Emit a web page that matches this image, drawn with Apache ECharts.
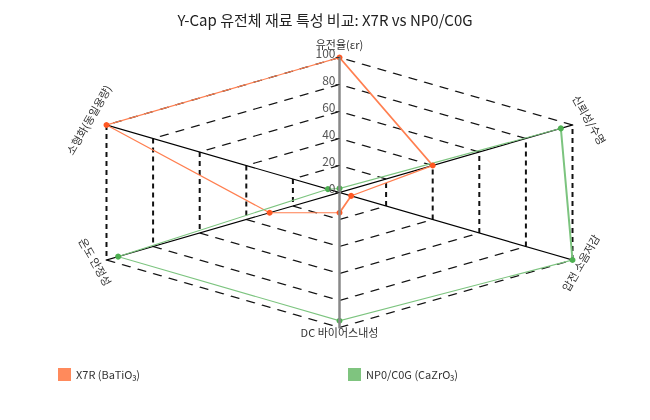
<!DOCTYPE html>
<html>
<head>
<meta charset="utf-8">
<title>Y-Cap 유전체 재료 특성 비교</title>
<script src="https://cdn.jsdelivr.net/npm/echarts@6/dist/echarts.min.js"></script>
<style>
	html, body { margin: 0; padding: 0; background: #fff; }
	#wrap { position: relative; width: 650px; height: 420px; overflow: hidden; }
	#shape { position: absolute; left: 0; top: 0; height: 420px; transform-origin: 0 0; }
	#chart { position: absolute; left: 0; top: 0; width: 650px; height: 420px; }
</style>
</head>
<body>
<div id="wrap">
	<div id="shape"></div>
	<div id="chart"></div>
</div>
<script>
// data
var indicatorNames = ['유전율(εr)', '소형화(동일용량)', '온도 안정성', 'DC 바이어스내성', '압전 소음저감', '신뢰성/수명'];
var seriesNames = ['X7R (BaTiO₃)', 'NP0/C0G (CaZrO₃)'];
var x7rValues = [100, 100, 30, 15, 5, 40];
var np0Values = [3, 5, 95, 95, 100, 95];
var axisMin = 0;
var axisMax = 100;

(function() {
	'use strict';

	var FONT = "'Noto Sans CJK KR', 'Noto Sans', sans-serif";
	// the radar in the reference is stretched sideways, so the shapes layer is scaled on x
	var K = 1.993;
	var CX = 339.5, CY = 192.5, R = 135;

	/*
	Shapes layer (stretched)
	*/
	var shapeEl = document.getElementById('shape');
	shapeEl.style.width = (650 / K) + 'px';
	shapeEl.style.transform = 'scaleX(' + K + ')';

	var shapeIndicators = indicatorNames.map(function(n, i) {
		var ind = { name: n, min: axisMin, max: axisMax };
		if (i === 0 || i === 3) {
			ind.axisLine = { show: false };
		}
		return ind;
	});

	var shapeChart = echarts.init(shapeEl, null, { renderer: 'svg' });
	shapeChart.setOption({
		animation: false,
		radar: {
			center: [CX / K, CY],
			radius: R,
			startAngle: 90,
			shape: 'polygon',
			splitNumber: 5,
			indicator: shapeIndicators,
			axisName: { show: false },
			axisLine: { lineStyle: { color: '#000', width: 1 } },
			axisTick: { show: false },
			axisLabel: { show: false },
			splitLine: { lineStyle: { color: '#111', type: [5, 4], width: 1 } },
			splitArea: { show: false }
		},
		series: [
			{
				type: 'radar',
				name: seriesNames[0],
				symbol: 'circle',
				symbolSize: [6 / K, 6],
				lineStyle: { color: '#FF7F50', width: 1 },
				itemStyle: { color: '#FF5722' },
				data: [{ value: x7rValues, name: seriesNames[0] }]
			},
			{
				type: 'radar',
				name: seriesNames[1],
				symbol: 'circle',
				symbolSize: [6 / K, 6],
				lineStyle: { color: '#7CC47F', width: 1 },
				itemStyle: { color: '#4CAF50' },
				data: [{ value: np0Values, name: seriesNames[1] }]
			}
		]
	});

	/*
	Text layer (title, legend, ticks, names)
	*/
	var textIndicators = indicatorNames.map(function(n, i) {
		var ind = { name: n, min: axisMin, max: axisMax };
		if (i === 0) {
			ind.axisLine = { show: true, lineStyle: { color: '#888', width: 2.5 } };
			ind.axisTick = { show: true, length: 4, lineStyle: { color: '#333', width: 1 } };
			ind.axisLabel = {
				show: true, fontSize: 12, color: '#555', fontFamily: FONT, margin: 4,
				verticalAlign: 'bottom', lineHeight: 8
			};
		}
		if (i === 3) {
			ind.axisLine = { show: true, lineStyle: { color: '#888', width: 2.5 } };
		}
		return ind;
	});

	var nameStyle = { fontSize: 11, fill: '#333', fontFamily: FONT, align: 'center', verticalAlign: 'middle' };
	function nameText(i, x, y, rot) {
		return {
			type: 'text', x: x, y: y, rotation: rot, silent: true,
			style: echarts.util.extend({ text: indicatorNames[i] }, nameStyle)
		};
	}

	var chart = echarts.init(document.getElementById('chart'));
	chart.setOption({
		animation: false,
		textStyle: { fontFamily: FONT },
		title: {
			text: 'Y-Cap 유전체 재료 특성 비교: X7R vs NP0/C0G',
			left: 'center',
			top: 8,
			textStyle: { fontSize: 15, fontWeight: 'normal', color: '#222', fontFamily: FONT }
		},
		legend: [
			{
				data: [{ name: seriesNames[0], itemStyle: { color: '#FF8A5C' } }],
				left: 53, top: 363, icon: 'rect', itemWidth: 13, itemHeight: 13,
				textStyle: { fontSize: 11, color: '#333' }
			},
			{
				data: [{ name: seriesNames[1], itemStyle: { color: '#7FC47F' } }],
				left: 343, top: 363, icon: 'rect', itemWidth: 13, itemHeight: 13,
				textStyle: { fontSize: 11, color: '#333' }
			}
		],
		radar: {
			center: [CX, CY],
			radius: R,
			startAngle: 90,
			shape: 'polygon',
			splitNumber: 5,
			indicator: textIndicators,
			axisName: { show: false },
			axisLine: { show: false },
			axisTick: { show: false },
			axisLabel: { show: false },
			splitLine: { show: false },
			splitArea: { show: false }
		},
		graphic: [
			nameText(0, 339.5, 45, 0),
			nameText(1, 89, 120, Math.PI / 3),
			nameText(2, 95, 262, -Math.PI / 3),
			nameText(3, 339.5, 333, 0),
			nameText(4, 581, 263, Math.PI / 3),
			nameText(5, 589, 120, -Math.PI / 3)
		],
		series: [
			{
				type: 'radar', name: seriesNames[0], silent: true, symbol: 'none',
				lineStyle: { color: 'rgba(0,0,0,0)' },
				itemStyle: { color: '#FF8A5C' },
				data: [{ value: x7rValues, name: seriesNames[0] }]
			},
			{
				type: 'radar', name: seriesNames[1], silent: true, symbol: 'none',
				lineStyle: { color: 'rgba(0,0,0,0)' },
				itemStyle: { color: '#7FC47F' },
				data: [{ value: np0Values, name: seriesNames[1] }]
			}
		]
	});
})();
</script>
</body>
</html>
